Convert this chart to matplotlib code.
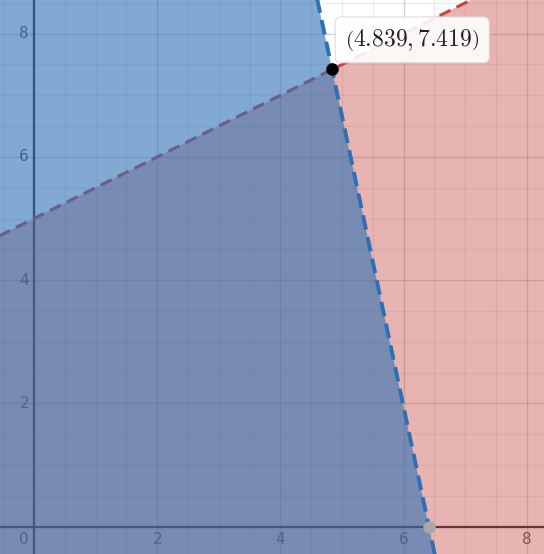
import numpy as np
import matplotlib
matplotlib.use("Agg")
import matplotlib.pyplot as plt

plt.rcParams['mathtext.fontset'] = 'cm'

# Data
red_slope, red_intercept = 0.5, 5.0          # y = 0.5x + 5
intersection = (4.839, 7.419)
blue_x_intercept = (6.41, 0.0)
tick_values = [0, 2, 4, 6, 8]
label_text = r"$\left(4.839, 7.419\right)$"

blue_slope = (blue_x_intercept[1] - intersection[1]) / (blue_x_intercept[0] - intersection[0])
blue_intercept = intersection[1] - blue_slope * intersection[0]

xmin, xmax = -0.552, 8.279
ymin, ymax = -0.446, 8.547

fig = plt.figure(figsize=(5.44, 5.54), dpi=100)
ax = fig.add_axes([0, 0, 1, 1])
ax.set_xlim(xmin, xmax)
ax.set_ylim(ymin, ymax)
ax.axis('off')

# Grid
for v in np.arange(-0.5, 8.51, 0.5):
    major = abs(v / 2 - round(v / 2)) < 1e-9
    ax.axvline(v, color='black', alpha=0.17 if major else 0.07, lw=1.0, zorder=1)
    ax.axhline(v, color='black', alpha=0.17 if major else 0.07, lw=1.0, zorder=1)
ax.axvline(0, color='#2a2a2a', lw=1.6, zorder=1.5)
ax.axhline(0, color='#2a2a2a', lw=1.6, zorder=1.5)

# Tick labels
for t in tick_values:
    if t == 0:
        ax.text(-0.08, -0.09, "0", ha='right', va='top', fontsize=11, color='#555555', zorder=2)
        continue
    ax.text(t, -0.09, str(t), ha='center', va='top', fontsize=11, color='#555555', zorder=2)
    ax.text(-0.08, t, str(t), ha='right', va='center', fontsize=11, color='#555555', zorder=2)

xs = np.array([xmin - 1, xmax + 1])
red_col = '#c74440'
blue_col = '#2d70b3'

# Red region: below red line
ry = red_slope * xs + red_intercept
ax.fill_between(xs, ymin - 1, ry, color=red_col, alpha=0.4, lw=0, zorder=3)
ax.plot(xs, ry, color=red_col, lw=2.2, dashes=(4, 2.2), zorder=3.5)

# Blue region: left of blue line
ys = np.array([ymin - 1, ymax + 1])
bx = (ys - blue_intercept) / blue_slope
ax.fill_betweenx(ys, xmin - 1, bx, color=blue_col, alpha=0.6, lw=0, zorder=4)
ax.plot(bx, ys, color=blue_col, lw=2.8, dashes=(3.8, 1.9), zorder=5)

# Points
ax.plot(*blue_x_intercept, 'o', color='#a8a8a8', ms=8, zorder=6)
ax.plot(*intersection, 'o', color='black', ms=8, zorder=7)

# Label box
ax.text(6.14, 7.90, label_text, ha='center', va='center', fontsize=17, color='#222222', zorder=9,
        bbox=dict(boxstyle='round,pad=0.42,rounding_size=0.25', fc='white', ec='#d8d8d8', lw=0.8, alpha=0.9))

fig.savefig('out.png', dpi=100)
